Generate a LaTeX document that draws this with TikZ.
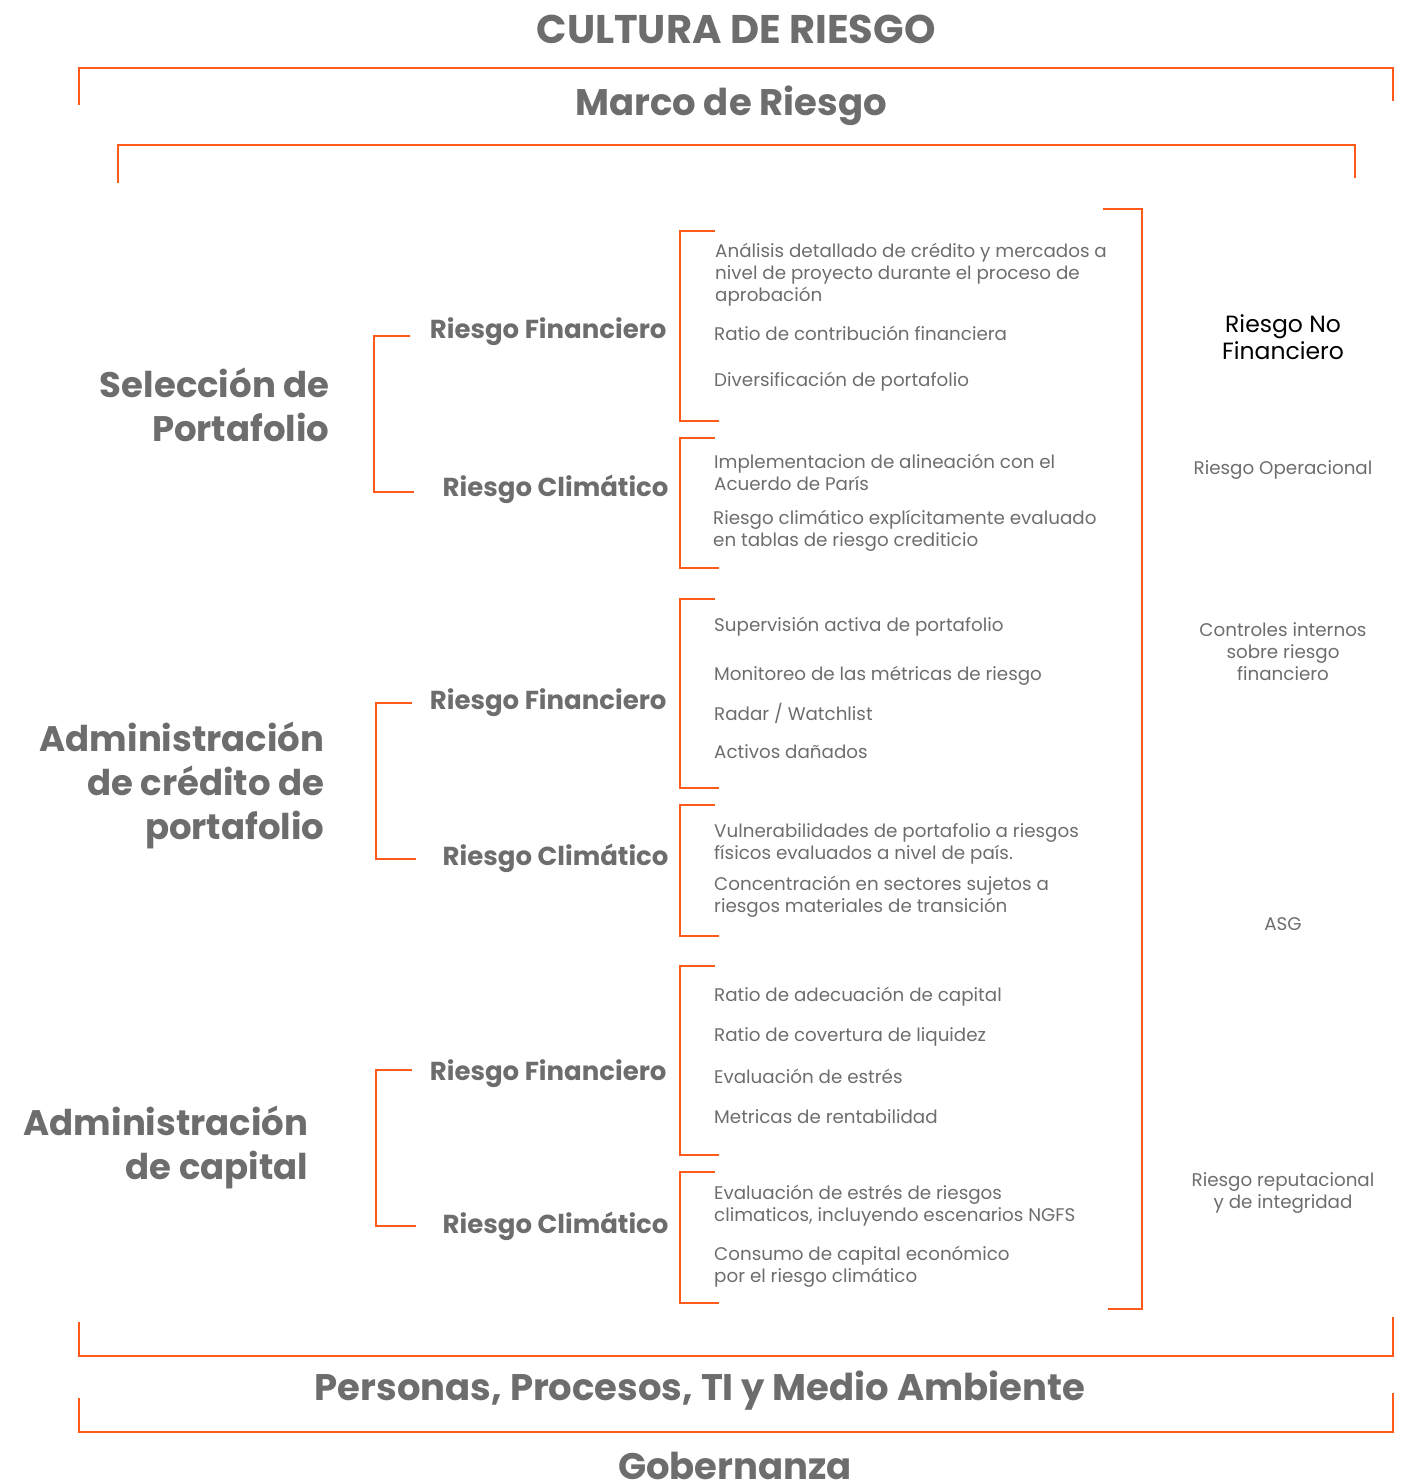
\documentclass[tikz,border=0pt]{standalone}
\usepackage{fontspec}
\setmainfont{Poppins}
\definecolor{riskorange}{HTML}{FF5A1A}
\definecolor{riskgray}{HTML}{6D6D6D}
\begin{document}
\begin{tikzpicture}[x=1pt,y=-1pt,
    title/.style={text=riskgray,font=\fontsize{37}{44}\selectfont\bfseries},
    group/.style={text=riskgray,font=\fontsize{35.5}{44}\selectfont\bfseries,align=right,anchor=east},
    kind/.style={text=riskgray,font=\fontsize{26}{30}\selectfont\bfseries,anchor=east},
    item/.style={text=riskgray,font=\fontsize{18.3}{22}\selectfont,align=left,anchor=west,inner sep=0pt},
    side/.style={text=riskgray,font=\fontsize{18.3}{22}\selectfont,align=center},
    brk/.style={draw=riskorange,line width=2.6pt}]
  \useasboundingbox (0,0) rectangle (1410,1483);

  % frames
  \draw[brk] (79,105) -- (79,68) -- (1393,68) -- (1393,101);
  \draw[brk] (118,183) -- (118,145) -- (1355,145) -- (1355,178);
  \draw[brk] (79,1322) -- (79,1356) -- (1393,1356) -- (1393,1317);
  \draw[brk] (79,1398) -- (79,1432) -- (1393,1432) -- (1393,1393);
  \draw[brk] (1103,209) -- (1142,209) -- (1142,1309) -- (1108,1309);

  \node[title,font=\fontsize{40}{44}\selectfont\bfseries] (cultura) at (736,29) {CULTURA DE RIESGO};
  \node[title] (marco) at (731,106) {Marco de Riesgo};
  \node[title] (personas) at (700,1391) {Personas, Procesos, TI y Medio Ambiente};
  \node[title] (gobernanza) at (735,1466) {Gobernanza};

  % groups
  \node[group] (seleccion) at (333,405) {Selección de\\Portafolio};
  \node[group] (credito) at (328,785) {Administración\\de crédito de\\portafolio};
  \node[group] (capital) at (312,1147) {Administración\\de capital};

  \draw[brk] (410,336) -- (374,336) -- (374,492) -- (414,492);
  \draw[brk] (412,703) -- (376,703) -- (376,859) -- (416,859);
  \draw[brk] (412,1070) -- (376,1070) -- (376,1226) -- (416,1226);

  \node[kind] (fin1) at (670,332) {Riesgo Financiero};
  \node[kind] (cli1) at (672,489) {Riesgo Climático};
  \node[kind] (fin2) at (670,703) {Riesgo Financiero};
  \node[kind] (cli2) at (672,858) {Riesgo Climático};
  \node[kind] (fin3) at (670,1074) {Riesgo Financiero};
  \node[kind] (cli3) at (672,1226) {Riesgo Climático};

  % item brackets
  \draw[brk] (715,231) -- (680,231) -- (680,421) -- (719,421);
  \draw[brk] (715,438) -- (680,438) -- (680,568) -- (719,568);
  \draw[brk] (715,599) -- (680,599) -- (680,788) -- (719,788);
  \draw[brk] (715,805) -- (680,805) -- (680,936) -- (719,936);
  \draw[brk] (715,966) -- (680,966) -- (680,1155) -- (719,1155);
  \draw[brk] (715,1172) -- (680,1172) -- (680,1303) -- (719,1303);

  \node[item] (a1) at (715,275) {Análisis detallado de crédito y mercados a\\nivel de proyecto durante el proceso de\\aprobación};
  \node[item] (a2) at (714,333) {Ratio de contribución financiera};
  \node[item] (a3) at (714,382) {Diversificación de portafolio};
  \node[item] (b1) at (714,472) {Implementacion de alineación con el\\Acuerdo de París};
  \node[item] (b2) at (713,531) {Riesgo climático explícitamente evaluado\\en tablas de riesgo crediticio};
  \node[item] (c1) at (714,627) {Supervisión activa de portafolio};
  \node[item] (c2) at (714,676) {Monitoreo de las métricas de riesgo};
  \node[item] (c3) at (714,713) {Radar / Watchlist};
  \node[item] (c4) at (714,752) {Activos dañados};
  \node[item] (d1) at (714,844) {Vulnerabilidades de portafolio a riesgos\\físicos evaluados a nivel de país.};
  \node[item] (d2) at (714,897) {Concentración en sectores sujetos a\\riesgos materiales de transición};
  \node[item] (e1) at (714,997) {Ratio de adecuación de capital};
  \node[item] (e2) at (714,1037) {Ratio de covertura de liquidez};
  \node[item] (e3) at (714,1076) {Evaluación de estrés};
  \node[item] (e4) at (714,1117) {Metricas de rentabilidad};
  \node[item] (f1) at (714,1206) {Evaluación de estrés de riesgos\\climaticos, incluyendo escenarios NGFS};
  \node[item] (f2) at (714,1267) {Consumo de capital económico\\por el riesgo climático};

  % right column
  \node[side,text=black,font=\fontsize{23.5}{27}\selectfont] (nofin) at (1283,337) {Riesgo No\\Financiero};
  \node[side] (operacional) at (1283,470) {Riesgo Operacional};
  \node[side] (controles) at (1283,652) {Controles internos\\sobre riesgo\\financiero};
  \node[side] (asg) at (1283,924) {ASG};
  \node[side] (reputacional) at (1283,1193) {Riesgo reputacional\\y de integridad};
\end{tikzpicture}
\end{document}
